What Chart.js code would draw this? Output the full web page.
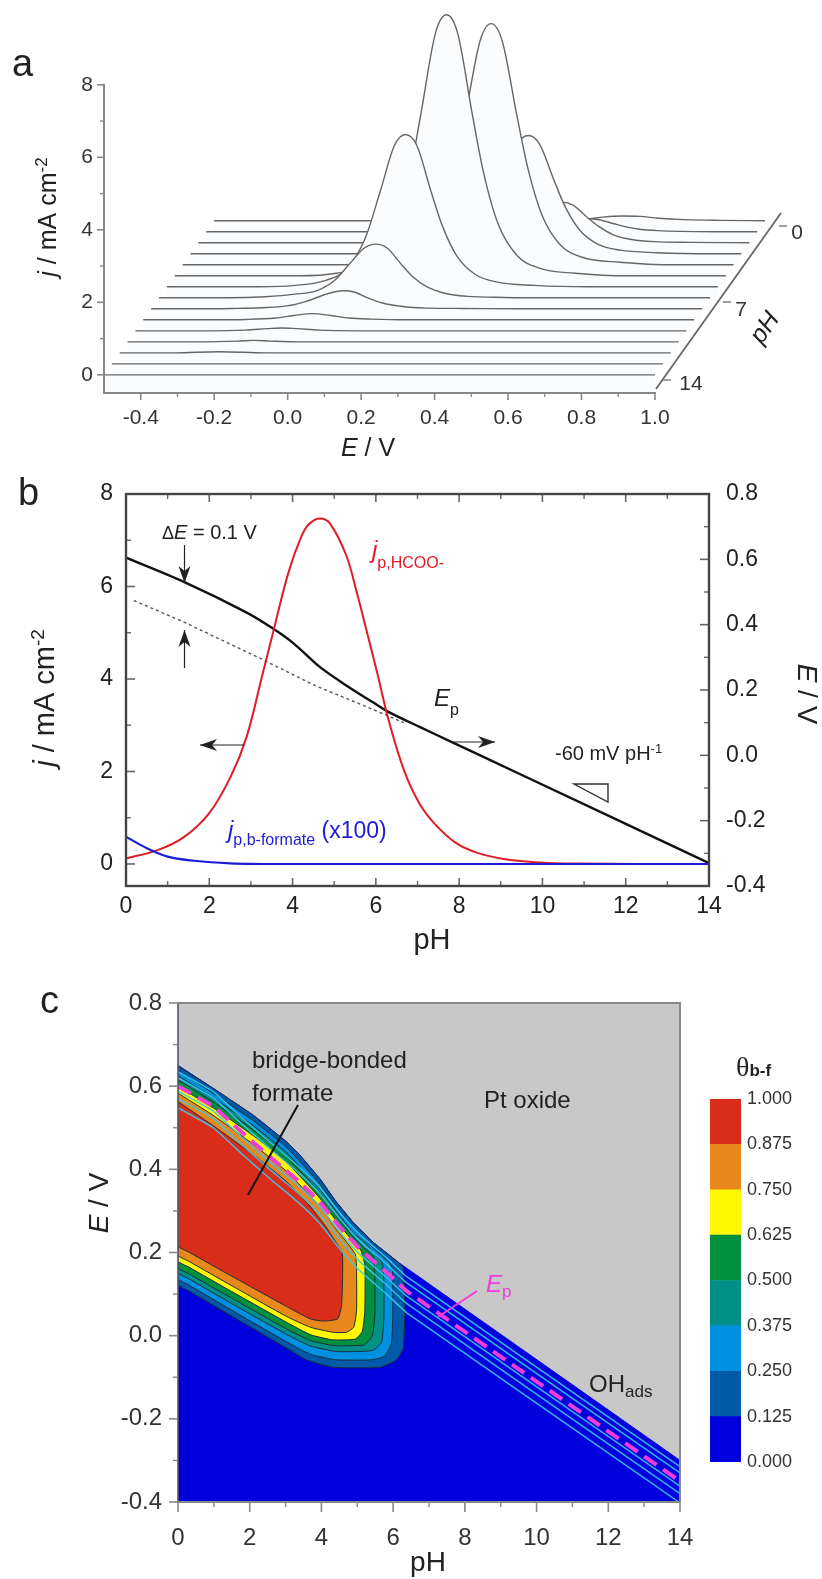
<!DOCTYPE html>
<html><head><meta charset="utf-8">
<style>
html,body{margin:0;padding:0;background:#fff;width:822px;height:1579px;overflow:hidden}
canvas{position:absolute;display:block}
</style>
<script src="https://cdn.jsdelivr.net/npm/chart.js@4/dist/chart.umd.min.js"></script>
</head><body>
<canvas id="ca" style="left:0;top:-30px" width="822" height="500"></canvas>
<canvas id="cb" style="left:0;top:470px" width="822" height="490"></canvas>
<canvas id="cc" style="left:0;top:960px" width="822" height="619"></canvas>
<canvas id="cd" style="left:700px;top:1030px" width="122" height="480"></canvas>
<script>
const FONT='"Liberation Sans"';
// ---------- panel a: peak current vs potential for pH 0..14
const pHa=[0,1,2,3,4,5,6,7,8,9,10,11,12,13,14];
const E_pH0=[-.5,.35,.45,.52,.56,.61,.66,.71,.78,.88,1.0];
const j_pH0=[0,0,.01,.05,.1,.13,.12,.07,.03,.01,0];
const E_pH1=[-.5,.14,.24,.32,.38,.43,.47,.51,.54,.57,.61,.64,.68,.73,.79,.89,1.0];
const j_pH1=[0,0,0,.01,.04,.12,.22,.33,.36,.33,.22,.14,.07,.03,.01,0,0];
const E_pH2=[-.5,.09,.19,.27,.33,.38,.42,.46,.49,.52,.56,.59,.63,.68,.74,.84,1.0];
const j_pH2=[0,0,.01,.04,.13,.36,.69,1.04,1.12,1.04,.69,.45,.22,.09,.03,.01,0];
const E_pH3=[-.5,.02,.12,.2,.26,.31,.35,.39,.42,.45,.49,.52,.56,.61,.67,.77,.92,1.0];
const j_pH3=[0,0,.03,.13,.39,1.04,2.02,3.03,3.26,3.03,2.02,1.3,.65,.26,.1,.03,0,0];
const E_pH4=[-.5,-.06,.04,.12,.18,.23,.27,.31,.34,.37,.41,.44,.48,.53,.59,.69,.84,1.0];
const j_pH4=[0,0,.07,.27,.8,2.13,4.12,6.18,6.65,6.18,4.12,2.66,1.33,.53,.2,.07,0,0];
const E_pH5=[-.5,-.16,-.06,.02,.08,.13,.17,.21,.24,.27,.31,.34,.38,.43,.49,.59,.74,1.0];
const j_pH5=[0,0,.07,.29,.86,2.3,4.46,6.7,7.2,6.7,4.46,2.88,1.44,.58,.22,.07,0,0];
const E_pH6=[-.5,-.25,-.15,-.07,-.01,.04,.08,.12,.15,.18,.22,.25,.29,.34,.40,.50,.65,1.0];
const j_pH6=[0,0,.04,.17,.5,1.34,2.6,3.91,4.2,3.91,2.6,1.68,.84,.34,.13,.04,0,0];
const E_pH7=[-.5,-.31,-.21,-.13,-.07,-.02,.02,.06,.09,.12,.16,.19,.23,.28,.34,.44,.59,1.0];
const j_pH7=[0,0,.03,.1,.2,.5,.95,1.38,1.48,1.38,.92,.59,.3,.12,.04,.01,0,0];
const E_pH8=[-.5,-.38,-.28,-.2,-.13,-.08,-.03,0,.024,.05,.09,.13,.18,.25,.35,.5,1.0];
const j_pH8=[0,0,.01,.03,.08,.2,.38,.47,.5,.47,.3,.16,.07,.02,.01,0,0];
const E_pH9=[-.5,-.32,-.22,-.14,-.09,-.04,.01,.06,.12,.22,.4,1.0];
const j_pH9=[0,0,.01,.05,.12,.17,.12,.05,.02,0,0,0];
const E_pH10=[-.5,-.3,-.2,-.14,-.1,-.06,0,.1,1.0];
const j_pH10=[0,0,.02,.06,.08,.06,.02,0,0];
const E_pH11=[-.5,-.3,-.2,-.157,-.11,-.03,1.0];
const j_pH11=[0,0,.02,.04,.02,0,0];
const E_pH12=[-.5,-.35,-.23,-.1,1.0];
const j_pH12=[0,0,.03,0,0];
const E_pH13=[-.5,1.0];
const j_pH13=[0,0];
const E_pH14=[-.5,1.0];
const j_pH14=[0,0];
const curvesE=[E_pH0,E_pH1,E_pH2,E_pH3,E_pH4,E_pH5,E_pH6,E_pH7,E_pH8,E_pH9,E_pH10,E_pH11,E_pH12,E_pH13,E_pH14];
const curvesJ=[j_pH0,j_pH1,j_pH2,j_pH3,j_pH4,j_pH5,j_pH6,j_pH7,j_pH8,j_pH9,j_pH10,j_pH11,j_pH12,j_pH13,j_pH14];
const skewE=0.0214, liftJ=0.3036;
const aXTicks=[-.5,-.4,-.3,-.2,-.1,0,.1,.2,.3,.4,.5,.6,.7,.8,.9,1.0];
const aYTicks=[0,1,2,3,4,5,6,7,8];
// ---------- panel b
const pH_jp=[0,.76,1.39,2.0,2.52,2.9,3.27,3.53,3.9,4.22,4.41,4.66,4.9,5.29,5.54,5.79,6.05,6.3,6.67,7.05,7.43,7.93,8.44,9.07,9.82,10.8,14];
const j_jp=[.12,.3,.58,1.1,1.9,2.76,4.07,5.0,6.3,7.1,7.36,7.47,7.36,6.67,5.88,5.0,4.07,3.13,2.04,1.3,.85,.45,.24,.11,.04,.01,0];
const pH_jb=[0,.5,1,1.64,2.5,3.8,14];
const j_jb=[.59,.34,.16,.07,.015,0,0];
const pH_Ep=[0,1.39,2.9,3.53,4.03,4.66,5.29,5.92,6.3,7.05,7.8,9.57,14];
const E_Ep=[.605,.531,.437,.388,.342,.27,.214,.163,.133,.087,.042,-.064,-.33];
const pH_Ed=[.19,1.39,3.27,4.53,5.79,6.67];
const E_Ed=[.474,.408,.294,.214,.148,.1];
const bXTicks=[0,1,2,3,4,5,6,7,8,9,10,11,12,13,14];
const bYTicks=[0,1,2,3,4,5,6,7,8];
const bETicks=[-.4,-.3,-.2,-.1,0,.1,.2,.3,.4,.5,.6,.7,.8];
// ---------- panel c: contour levels as (pH,E)
const blueRegion=[[0,-.4],[14,-.4],[14,-.3],[6.15,.176],[5.45,.224],[4.89,.272],[4.42,.321],[3.96,.377],[3.4,.434],[3.03,.466],[2.1,.53],[.98,.595],[0,.65]];
const level125=[[0,.649],[.3,.632],[.98,.595],[2.1,.53],[3.03,.466],[3.4,.434],[3.96,.377],[4.42,.321],[4.89,.272],[5.45,.224],[6.15,.176],[6.28,.164],[6.33,.06],[6.28,-.03],[6.1,-.058],[5.63,-.076],[4.33,-.076],[3.58,-.058],[3.03,-.03],[1.5,.047],[.3,.108],[0,.123],[0,.649]];
const level250=[[0,.638],[.3,.621],[.98,.583],[2.1,.517],[3.03,.453],[3.96,.364],[4.42,.31],[4.89,.258],[5.45,.21],[5.9,.175],[5.98,.16],[5.99,.05],[5.95,-.02],[5.75,-.05],[5.4,-.058],[4.4,-.058],[3.7,-.045],[3.03,-.015],[1.5,.061],[.3,.122],[0,.137],[0,.638]];
const level375=[[0,.625],[.3,.609],[.98,.572],[2.1,.505],[3.03,.44],[3.96,.352],[4.42,.298],[4.89,.247],[5.2,.225],[5.45,.2],[5.7,.175],[5.74,.13],[5.74,.04],[5.68,-.015],[5.45,-.035],[5.1,-.038],[4.4,-.038],[3.7,-.025],[3.03,.003],[1.5,.077],[.3,.137],[0,.152],[0,.625]];
const level500=[[0,.615],[.3,.599],[.98,.562],[2.1,.495],[3.03,.43],[3.96,.343],[4.42,.288],[4.89,.237],[5.2,.21],[5.45,.19],[5.49,.14],[5.49,.05],[5.42,0],[5.2,-.022],[4.9,-.024],[4.35,-.024],[3.7,-.012],[3.03,.016],[1.5,.09],[.3,.149],[0,.164],[0,.615]];
const level625=[[0,.6],[.3,.584],[.98,.548],[2.1,.481],[3.03,.417],[3.96,.33],[4.42,.275],[4.89,.226],[5.1,.205],[5.21,.17],[5.21,.06],[5.14,.01],[4.95,-.008],[4.7,-.01],[4.3,-.01],[3.7,.002],[3.03,.032],[1.5,.106],[.3,.165],[0,.18],[0,.6]];
const level750=[[0,.583],[.3,.567],[.98,.53],[2.1,.46],[3.03,.395],[3.96,.31],[4.42,.255],[4.75,.22],[4.95,.195],[4.98,.15],[4.98,.06],[4.9,.02],[4.7,.008],[4.33,.008],[3.7,.02],[3.03,.046],[1.5,.12],[.3,.179],[0,.194],[0,.583]];
const level875=[[0,.563],[.3,.545],[.98,.505],[2.1,.435],[3.03,.37],[3.6,.32],[4.1,.265],[4.4,.225],[4.58,.2],[4.59,.14],[4.56,.07],[4.45,.04],[4.05,.035],[3.7,.04],[3.03,.07],[1.5,.143],[.3,.201],[0,.216],[0,.563]];
const levelSets=[level125,level250,level375,level500,level625,level750,level875];
const levelColors=['#005aa8','#0090e0','#009088','#009040','#fff800','#e8881c','#d92d1a'];
const ridgeA=[[0,.635],[.98,.587],[1.82,.521],[2.56,.465],[3.4,.404],[3.96,.356],[4.52,.295],[5.07,.243],[5.82,.187],[6.38,.142],[14,-.315]];
const ridgeB=[[0,.62],[.98,.572],[1.82,.506],[2.56,.45],[3.4,.389],[3.96,.341],[4.52,.28],[5.07,.228],[5.82,.172],[6.38,.127],[14,-.33]];
const ridgeC=[[0,.588],[.98,.54],[1.82,.474],[2.56,.418],[3.4,.357],[3.96,.309],[4.52,.248],[5.07,.196],[5.82,.14],[6.38,.095],[14,-.362]];
const ridgeD=[[0,.57],[.98,.522],[1.82,.456],[2.56,.4],[3.4,.339],[3.96,.291],[4.52,.23],[5.07,.178],[5.82,.122],[6.38,.077],[14,-.38]];
const ridgeE=[[0,.548],[.98,.5],[1.82,.434],[2.56,.378],[3.4,.317],[3.96,.269],[4.52,.208],[5.07,.156],[5.82,.1],[6.38,.055],[14,-.402]];
const ridges=[ridgeA,ridgeB,ridgeC,ridgeD,ridgeE];
const cEp=[[0,.6],[.98,.552],[1.82,.486],[2.56,.43],[3.4,.369],[3.96,.321],[4.52,.26],[5.07,.208],[5.82,.152],[6.38,.107],[7.31,.051],[9.36,-.072],[14,-.35]];
const cXTicks=[0,1,2,3,4,5,6,7,8,9,10,11,12,13,14];
const cYTicks=[-.4,-.3,-.2,-.1,0,.1,.2,.3,.4,.5,.6,.7,.8];
// ---------- colour bar
const barEdges=[0,.125,.25,.375,.5,.625,.75,.875,1];
const barColors=['#0000dc','#005aa8','#0090e0','#009088','#009040','#fff800','#e8881c','#d92d1a'];

// ---------- helpers
function pts(a){return a.map(p=>({x:p[0],y:p[1]}));}
function zip(xs,ys){return xs.map((x,i)=>({x,y:ys[i]}));}
function rich(ctx,x,y,segs,o={}){
  ctx.save();
  ctx.textBaseline='alphabetic';ctx.textAlign='left';
  const fnt=s=>(s.i?'italic ':'')+(s.b?'bold ':'')+s.s+'px '+(s.f||FONT);
  let w=0;segs.forEach(s=>{ctx.font=fnt(s);s._w=ctx.measureText(s.t).width;w+=s._w;});
  ctx.translate(x,y);
  if(o.rot)ctx.rotate(o.rot);
  if(o.center)ctx.translate(-w/2,0);
  let px=0;
  segs.forEach(s=>{ctx.font=fnt(s);ctx.fillStyle=s.c||o.color||'#222';ctx.fillText(s.t,px,s.dy||0);px+=s._w;});
  ctx.restore();
}
function seg(ctx,x1,y1,x2,y2,col,w){ctx.save();ctx.strokeStyle=col;ctx.lineWidth=w;ctx.beginPath();ctx.moveTo(x1,y1);ctx.lineTo(x2,y2);ctx.stroke();ctx.restore();}
function marksX(ctx,s,vals,at,len,col,w){vals.forEach(v=>{const p=s.getPixelForValue(v);seg(ctx,p,at,p,at+len,col,w);});}
function marksY(ctx,s,vals,at,len,col,w){vals.forEach(v=>{const p=s.getPixelForValue(v);seg(ctx,at,p,at+len,p,col,w);});}
function arrow(ctx,x1,y1,x2,y2,col){
  seg(ctx,x1,y1,x2,y2,col,1.2);
  const a=Math.atan2(y2-y1,x2-x1);
  ctx.save();ctx.translate(x2,y2);ctx.rotate(a);ctx.fillStyle=col;
  ctx.beginPath();ctx.moveTo(0,0);ctx.lineTo(-17,-6);ctx.lineTo(-12,0);ctx.lineTo(-17,6);ctx.closePath();ctx.fill();ctx.restore();
}
function base(fixed){return {responsive:false,animation:false,events:[],
  plugins:{legend:{display:false},tooltip:{enabled:false}},layout:{padding:fixed}};}
const hide={display:false,drawOnChartArea:false,drawTicks:false};
function scale(opts,size,fnt,pad,ticks,cb,col){
  return Object.assign({type:'linear',grid:hide,border:{display:false},
    afterBuildTicks:s=>{s.ticks=ticks.map(v=>({value:v}));},
    afterFit:s=>{if(s.isHorizontal())s.height=size;else s.width=size;s.paddingLeft=s.paddingRight=s.paddingTop=s.paddingBottom=0;},
    ticks:{autoSkip:false,maxRotation:0,minRotation:0,padding:pad,color:col||'#222',font:{family:FONT,size:fnt},callback:cb}},opts);
}

// ---------- panel a
const aOff=30;
const dsA=[];
for(let k=14;k>=0;k--){
  const pH=pHa[k];const lift=liftJ*(14-pH);const skew=skewE*(14-pH);
  dsA.push({label:'pH '+pH,
    data:curvesE[k].map((e,i)=>({x:e+skew,y:curvesJ[k][i]+lift})),
    borderColor:'#666',borderWidth:1.4,pointRadius:0,showLine:true,cubicInterpolationMode:'monotone',clip:false,
    fill:{target:{value:pH===14?-.5:lift-liftJ},above:'#fafcfe',below:'#fafcfe'}});
}
new Chart(document.getElementById('ca'),{type:'scatter',data:{datasets:dsA},
 options:Object.assign(base({top:35,left:0,right:49.5,bottom:0}),{
  scales:{
   x:scale({min:-.5,max:1.32,position:'bottom'},77,21,13,aXTicks,v=>Math.round(v*10)%2===0?v.toFixed(1):'','#333'),
   y:scale({min:-.5,max:10.2,position:'left'},104,21,11,aYTicks,v=>v%2===0?String(v):'','#333')
  }}),
 plugins:[{id:'axA',afterDraw(c){
  const g=c.ctx,x=c.scales.x,y=c.scales.y,col='#888';
  const x0=x.getPixelForValue(-.5),x1=x.getPixelForValue(1),yb=y.getPixelForValue(-.5),yt=y.getPixelForValue(8);
  seg(g,x0,yt-1,x0,yb+1,col,2);seg(g,x0-1,yb,x1+1,yb,col,2);
  marksY(g,y,[0,2,4,6,8],x0,-7,col,1.6);marksY(g,y,[1,3,5,7],x0,-4,col,1.4);
  marksX(g,x,[-.4,-.2,0,.2,.4,.6,.8,1],yb,7,col,1.6);marksX(g,x,[-.3,-.1,.1,.3,.5,.7,.9],yb,4,col,1.4);
  seg(g,x1+1,yb-4,781,213+aOff,'#666',1.8);
  seg(g,663,380+aOff,671,380+aOff,col,1.6);seg(g,723,302+aOff,731,302+aOff,col,1.6);seg(g,779,226+aOff,787,226+aOff,col,1.6);
  rich(g,797,239+aOff,[{t:'0',s:21}],{center:true,color:'#333'});
  rich(g,741,316+aOff,[{t:'7',s:21}],{center:true,color:'#333'});
  rich(g,691,390+aOff,[{t:'14',s:21}],{center:true,color:'#333'});
  rich(g,771,332+aOff,[{t:'pH',s:25,i:true}],{center:true,rot:-55*Math.PI/180,color:'#222'});
  rich(g,12,76+aOff,[{t:'a',s:38}]);
  rich(g,368,456+aOff,[{t:'E',s:25,i:true},{t:' / V',s:25}],{center:true});
  rich(g,56,217+aOff,[{t:'j',s:25,i:true},{t:' / mA cm',s:25},{t:'-2',s:17,dy:-9}],{center:true,rot:-Math.PI/2});
 }}]});

// ---------- panel b
const dsB=[
 {label:'j_b-formate',data:zip(pH_jb,j_jb),yAxisID:'y',borderColor:'#1c1cd8',borderWidth:2.2,pointRadius:0,showLine:true,cubicInterpolationMode:'monotone'},
 {label:'j_HCOO',data:zip(pH_jp,j_jp),yAxisID:'y',borderColor:'#e01c24',borderWidth:2,pointRadius:0,showLine:true,tension:.35},
 {label:'Ep',data:zip(pH_Ep,E_Ep),yAxisID:'y2',borderColor:'#111',borderWidth:2.4,pointRadius:0,showLine:true,tension:.3},
 {label:'Ep dashed',data:zip(pH_Ed,E_Ed),yAxisID:'y2',borderColor:'#555',borderWidth:1.4,borderDash:[3,3],pointRadius:0,showLine:true}
];
new Chart(document.getElementById('cb'),{type:'scatter',data:{datasets:dsB},
 options:Object.assign(base({top:24,left:0,right:0,bottom:0}),{
  scales:{
   x:scale({min:0,max:14,position:'bottom'},74,23,7,bXTicks,v=>v%2===0?String(v):''),
   y:scale({min:-.476,max:8,position:'left'},126,23,13,bYTicks,v=>v%2===0?String(v):''),
   y2:scale({min:-.4,max:.8,position:'right'},113,23,17,bETicks,v=>Math.round(v*10)%2===0?v.toFixed(1):'')
  }}),
 plugins:[{id:'axB',afterDraw(c){
  const g=c.ctx,x=c.scales.x,y=c.scales.y,e=c.scales.y2,a=c.chartArea,col='#444',tc='#666',o=-470;
  marksX(g,x,[2,4,6,8,10,12],a.bottom,-8,tc,1.6);marksX(g,x,[1,3,5,7,9,11,13],a.bottom,-5,tc,1.4);
  marksX(g,x,[2,4,6,8,10,12],a.top,8,tc,1.6);marksX(g,x,[1,3,5,7,9,11,13],a.top,5,tc,1.4);
  marksY(g,y,[0,2,4,6],a.left,9,tc,1.6);marksY(g,y,[1,3,5,7],a.left,5,tc,1.4);
  marksY(g,e,[-.2,0,.2,.4,.6],a.right,-9,tc,1.6);marksY(g,e,[-.3,-.1,.1,.3,.5,.7],a.right,-5,tc,1.4);
  g.save();g.strokeStyle=col;g.lineWidth=2.4;g.strokeRect(a.left,a.top,a.right-a.left,a.bottom-a.top);g.restore();
  rich(g,18,505+o,[{t:'b',s:38}]);
  rich(g,432,949+o,[{t:'pH',s:29}],{center:true});
  rich(g,54,698+o,[{t:'j',s:29,i:true},{t:' / mA cm',s:29},{t:'-2',s:19,dy:-10}],{center:true,rot:-Math.PI/2});
  rich(g,798,694+o,[{t:'E',s:28,i:true},{t:' / V',s:28}],{center:true,rot:Math.PI/2});
  rich(g,162,539+o,[{t:'\u0394',s:18},{t:'E',s:20,i:true},{t:' = 0.1 V',s:20}]);
  arrow(g,184.5,545+o,184.5,583+o,'#222');arrow(g,184.5,668+o,184.5,630+o,'#222');
  arrow(g,244,745+o,200,745+o,'#222');arrow(g,451,742+o,495,742+o,'#222');
  rich(g,434,706+o,[{t:'E',s:24,i:true},{t:'p',s:16,dy:9}]);
  rich(g,555,760+o,[{t:'-60 mV pH',s:20},{t:'-1',s:13,dy:-7}]);
  g.save();g.strokeStyle='#333';g.lineWidth=1.4;g.beginPath();g.moveTo(574,784+o);g.lineTo(608,784+o);g.lineTo(608,802+o);g.closePath();g.stroke();g.restore();
  rich(g,372,558+o,[{t:'j',s:24,i:true,c:'#e01c24'},{t:'p,HCOO-',s:16,dy:10,c:'#e01c24'}]);
  rich(g,228,838+o,[{t:'j',s:24,i:true,c:'#1c1cd8'},{t:'p,b-formate',s:16,dy:7,c:'#1c1cd8'},{t:' (x100)',s:23,c:'#1c1cd8'}]);
 }}]});

// ---------- panel c
const dsC=[];
dsC.push({label:'Ep',data:pts(cEp),borderColor:'#f03cdc',borderWidth:4,borderDash:[15,8],pointRadius:0,showLine:true});
ridges.forEach((r,i)=>dsC.push({label:'ridge '+i,data:pts(r),borderColor:'rgba(60,200,235,.9)',borderWidth:1.5,pointRadius:0,showLine:true,tension:.15}));
for(let i=levelSets.length-1;i>=0;i--){
  dsC.push({label:'level '+i,data:pts(levelSets[i]),borderColor:'#1c2c3c',borderWidth:1,backgroundColor:levelColors[i],fill:'shape',pointRadius:0,showLine:true,tension:.15});
}
dsC.push({label:'blue',data:pts(blueRegion),borderColor:'#0000dc',borderWidth:1,backgroundColor:'#0000dc',fill:'shape',pointRadius:0,showLine:true});
new Chart(document.getElementById('cc'),{type:'scatter',data:{datasets:dsC},
 options:Object.assign(base({top:43,left:0,right:142,bottom:0}),{
  scales:{
   x:scale({min:0,max:14,position:'bottom'},77,24,22,cXTicks,v=>v%2===0?String(v):'','#333'),
   y:scale({min:-.4,max:.8,position:'left'},178,24,16,cYTicks,v=>Math.round(v*10)%2===0?v.toFixed(1):'','#333')
  }}),
 plugins:[{id:'bgC',beforeDatasetsDraw(c){const g=c.ctx,a=c.chartArea;g.save();g.fillStyle='#c8c8c8';g.fillRect(a.left,a.top,a.right-a.left,a.bottom-a.top);g.restore();},
 afterDraw(c){
  const g=c.ctx,x=c.scales.x,y=c.scales.y,a=c.chartArea,col='#888',o=-960;
  seg(g,a.left,a.top-1,a.left,a.bottom+1,'#556',1.6);seg(g,a.left-1,a.top,a.right+1,a.top,col,2);seg(g,a.right,a.top,a.right,a.bottom,col,2);seg(g,a.left,a.bottom,a.right,a.bottom,col,2);
  marksX(g,x,[0,2,4,6,8,10,12,14],a.bottom,10,col,1.6);marksX(g,x,[1,3,5,7,9,11,13],a.bottom,5,col,1.4);
  marksY(g,y,[-.4,-.2,0,.2,.4,.6,.8],a.left,-9,col,1.6);marksY(g,y,[-.3,-.1,.1,.3,.5,.7],a.left,-5,col,1.4);
  rich(g,40,1013+o,[{t:'c',s:38}]);
  rich(g,428,1571+o,[{t:'pH',s:28}],{center:true});
  rich(g,108,1203+o,[{t:'E',s:28,i:true},{t:' / V',s:28}],{center:true,rot:-Math.PI/2});
  rich(g,252,1068+o,[{t:'bridge-bonded',s:24}]);
  rich(g,252,1101+o,[{t:'formate',s:24}]);
  seg(g,298,1105+o,248,1195+o,'#111',2);
  rich(g,484,1108+o,[{t:'Pt oxide',s:24}]);
  seg(g,477,1291+o,438,1317+o,'#f03cdc',2);
  rich(g,486,1292+o,[{t:'E',s:24,i:true,c:'#f03cdc'},{t:'p',s:17,dy:5,c:'#f03cdc'}]);
  rich(g,589,1392+o,[{t:'OH',s:24},{t:'ads',s:17,dy:5}]);
 }}]});

// ---------- colour bar
const dsD=barColors.map((col,i)=>({label:barEdges[i]+'-'+barEdges[i+1],data:[[barEdges[i],barEdges[i+1]]],backgroundColor:col,barPercentage:1,categoryPercentage:1}));
new Chart(document.getElementById('cd'),{type:'bar',data:{labels:['\u03b8'],datasets:dsD},
 options:Object.assign(base({top:69,left:10,right:0,bottom:48}),{
  scales:{
   x:{display:false,stacked:true},
   y:scale({min:0,max:1,position:'right'},81,18,6,barEdges,v=>v.toFixed(3),'#333')
  }}),
 plugins:[{id:'tD',afterDraw(c){
  rich(c.ctx,36,46,[{t:'\u03b8',s:28,f:'"Liberation Serif"'},{t:'b-f',s:17,b:true}]);
 }}]});
</script>
</body></html>
